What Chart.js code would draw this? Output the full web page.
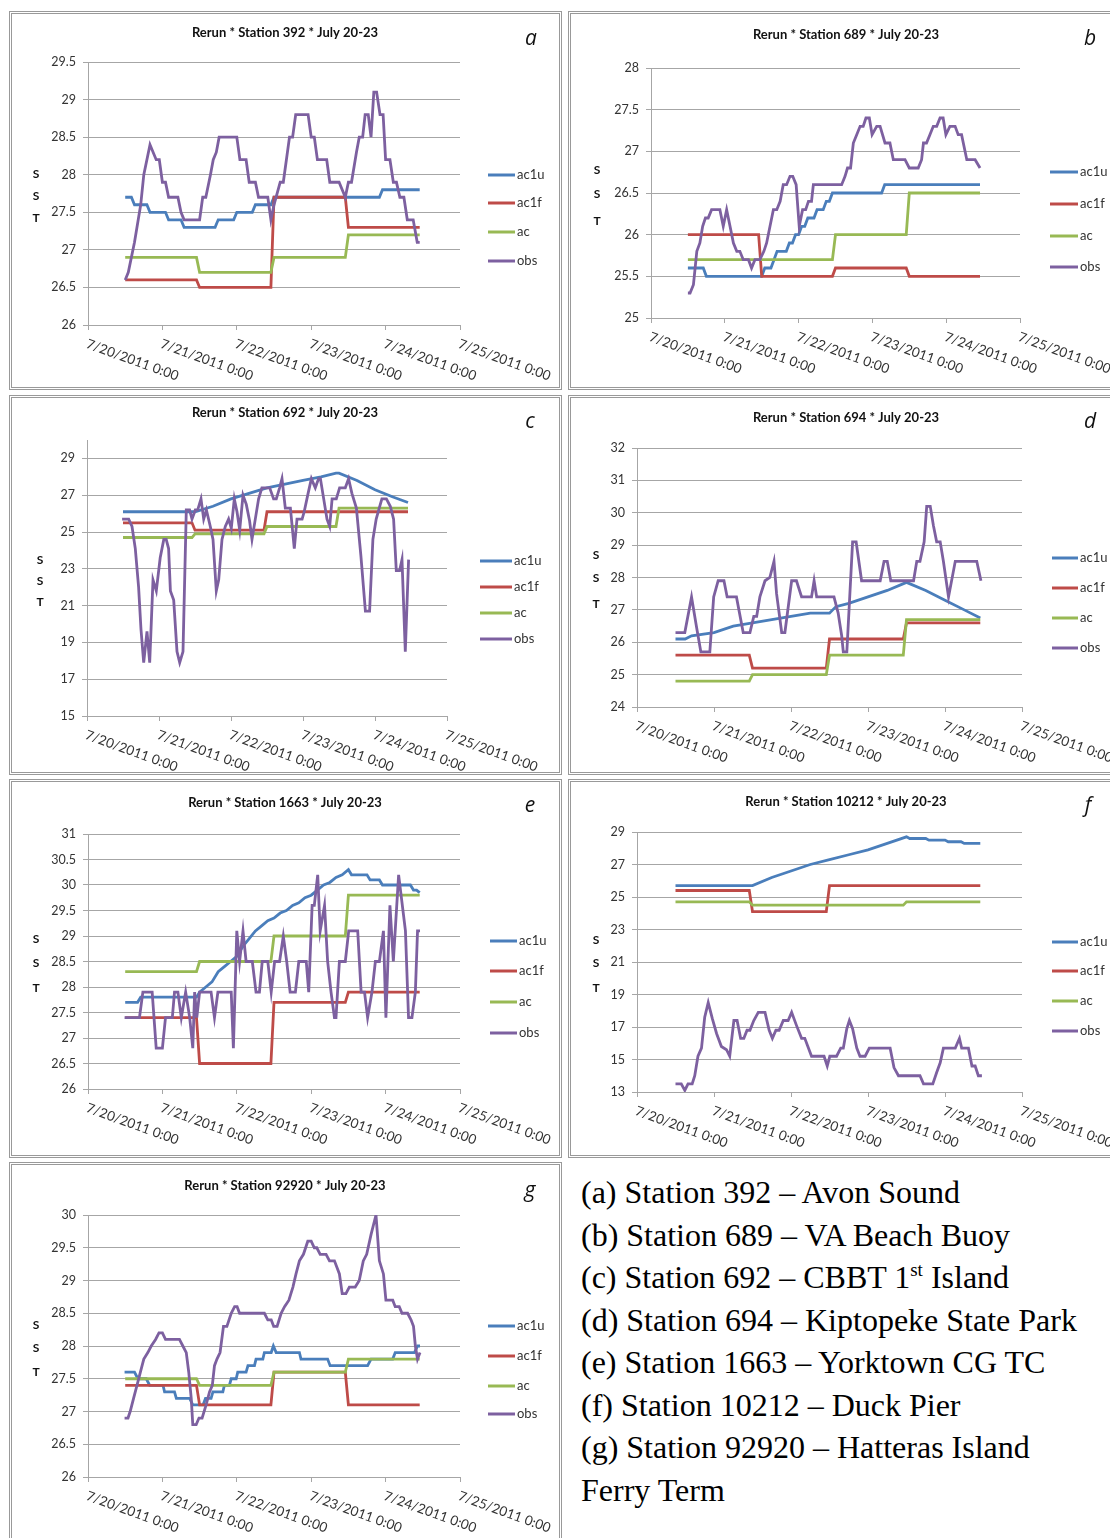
<!DOCTYPE html>
<html>
<head>
<meta charset="utf-8">
<script src="https://cdn.jsdelivr.net/npm/chart.js@4.4.1/dist/chart.umd.min.js"></script>
<style>
  body { margin: 0; width: 1110px; height: 1538px; overflow: hidden; background: #fff; position: relative; }
  canvas { position: absolute; }
  .frame { position: absolute; box-sizing: border-box; border: 3px double #999; pointer-events: none; }
  .caption { position: absolute; left: 581px; top: 1171px; font-family: "Liberation Serif", "Times New Roman", serif;
             font-size: 32px; line-height: 42.5px; color: #000; white-space: nowrap; }
  .caption sup { font-size: 19px; line-height: 0; }
</style>
</head>
<body>
<div class="caption">
  <div>(a) Station 392 – Avon Sound</div>
  <div>(b) Station 689 – VA Beach Buoy</div>
  <div>(c) Station 692 – CBBT 1<sup>st</sup> Island</div>
  <div>(d) Station 694 – Kiptopeke State Park</div>
  <div>(e) Station 1663 – Yorktown CG TC</div>
  <div>(f) Station 10212 – Duck Pier</div>
  <div>(g) Station 92920 – Hatteras Island</div>
  <div>Ferry Term</div>
</div>
<script>
// x values are hours after 7/20/2011 0:00
const xTicks = [0, 24, 48, 72, 96, 120];
const xTickLabels = ['7/20/2011 0:00', '7/21/2011 0:00', '7/22/2011 0:00', '7/23/2011 0:00', '7/24/2011 0:00', '7/25/2011 0:00'];
const seriesNames = ['ac1u', 'ac1f', 'ac', 'obs'];
const seriesColors = ['#4a7ebb', '#be4b48', '#98b954', '#7d60a0'];

// (a) Station 392
const yTicksA = [26, 26.5, 27, 27.5, 28, 28.5, 29, 29.5];
const a_ac1u = [[12,27.7],[14,27.7],[15,27.6],[19,27.6],[20,27.5],[25,27.5],[26,27.4],[30,27.4],[31,27.3],[41,27.3],[42,27.4],[47,27.4],[48,27.5],[53,27.5],[54,27.6],[59,27.6],[60,27.7],[94,27.7],[95,27.8],[107,27.8]];
const a_ac1f = [[12,26.6],[35,26.6],[36,26.5],[59,26.5],[60,27.7],[83,27.7],[84,27.3],[107,27.3]];
const a_ac = [[12,26.9],[35,26.9],[36,26.7],[59,26.7],[60,26.9],[83,26.9],[84,27.2],[107,27.2]];
const a_obs = [[12,26.6],[13,26.7],[15,27.1],[17,27.6],[18,28.0],[20,28.4],[22,28.2],[23,28.2],[24,27.9],[25,27.9],[26,27.7],[29,27.7],[30,27.5],[31,27.4],[36,27.4],[37,27.7],[38,27.7],[39.5,28.0],[40.4,28.2],[41.4,28.3],[42.3,28.5],[48,28.5],[49,28.2],[51,28.2],[52,27.9],[54,27.9],[55,27.7],[58,27.7],[59,27.4],[60,27.6],[62,27.9],[63,27.9],[64,28.2],[65,28.5],[66,28.5],[67,28.8],[71,28.8],[72,28.5],[73,28.5],[74,28.2],[77,28.2],[78,27.9],[81,27.9],[83,27.7],[84,27.9],[85,27.9],[86.6,28.3],[87.5,28.5],[88.6,28.5],[89.4,28.8],[90.4,28.8],[91.3,28.5],[92.2,29.1],[93.1,29.1],[94.2,28.8],[95.2,28.8],[96,28.2],[97.4,28.2],[98.5,27.9],[99.5,27.9],[100.6,27.7],[101.9,27.7],[103,27.4],[104.9,27.4],[106.2,27.1],[107,27.1]];

// (b) Station 689
const yTicksB = [25, 25.5, 26, 26.5, 27, 27.5, 28];
const b_ac1u = [[12,25.6],[17,25.6],[18,25.5],[36,25.5],[37,25.6],[39,25.6],[40,25.7],[41,25.8],[44,25.8],[45,25.9],[46,25.9],[47,26.0],[48,26.0],[49,26.1],[50,26.1],[51,26.2],[53,26.2],[54,26.3],[56,26.3],[57,26.4],[58,26.4],[59,26.5],[75,26.5],[76,26.6],[107,26.6]];
const b_ac1f = [[12,26.0],[35,26.0],[36,25.5],[59,25.5],[60,25.6],[83,25.6],[84,25.5],[107,25.5]];
const b_ac = [[12,25.7],[59,25.7],[60,26.0],[83,26.0],[84,26.5],[107,26.5]];
const b_obs = [[12,25.3],[12.7,25.3],[13.8,25.4],[14.9,25.8],[15.9,25.9],[16.8,26.1],[17.7,26.2],[18.6,26.2],[19.7,26.3],[22.4,26.3],[23.5,26.1],[24.6,26.3],[25.7,26.1],[26.8,25.9],[27.9,25.8],[28.9,25.8],[30,25.7],[31.7,25.7],[32.7,25.6],[33.8,25.7],[35.4,25.7],[36.7,25.8],[37.6,25.9],[38.7,26.1],[39.8,26.3],[40.9,26.3],[42,26.4],[43,26.6],[44.1,26.6],[45.2,26.7],[46.1,26.7],[47.2,26.6],[48.2,26.1],[49.3,26.3],[50.3,26.3],[51.2,26.4],[52.2,26.4],[52.8,26.6],[62,26.6],[63.1,26.7],[63.9,26.8],[64.9,26.8],[65.8,27.1],[66.9,27.2],[68,27.3],[69,27.3],[69.9,27.4],[71,27.4],[71.9,27.2],[73.4,27.3],[74.5,27.3],[76.1,27.1],[77.7,27.1],[78.8,26.9],[82.6,26.9],[84,26.8],[86.9,26.8],[88,26.9],[88.6,27.1],[89.6,27.1],[90.7,27.2],[91.8,27.3],[92.9,27.3],[94,27.4],[95,27.4],[95.9,27.2],[97.2,27.3],[98.9,27.3],[99.9,27.2],[101,27.2],[102.7,26.9],[105.4,26.9],[107,26.8]];

// (c) Station 692
const yTicksC = [15, 17, 19, 21, 23, 25, 27, 29];
const c_ac1u = [[12,26.1],[36,26.1],[42,26.4],[48,26.8],[54,27.1],[60,27.4],[66,27.6],[72,27.8],[78,28.0],[83,28.2],[84,28.2],[90,27.8],[96,27.3],[102,26.9],[107,26.6]];
const c_ac1f = [[12,25.5],[35,25.5],[36,25.1],[59,25.1],[60,26.1],[107,26.1]];
const c_ac = [[12,24.7],[35,24.7],[36,24.9],[59,24.9],[60,25.3],[83,25.3],[84,26.3],[107,26.3]];
const c_obs = [[11.7,25.7],[13.9,25.7],[15,25.3],[16.1,24.1],[17.2,22.0],[18,19.7],[18.9,17.9],[20,19.6],[20.9,17.9],[22,22.4],[23.1,21.8],[24.4,23.6],[25.6,24.6],[26.4,24.6],[27.2,24.1],[27.8,21.8],[28.9,21.3],[30,18.5],[30.9,17.9],[32,18.5],[33.1,26.2],[34.2,26.2],[35,25.7],[36.1,26.2],[36.9,26.2],[38,26.8],[38.9,25.7],[39.8,26.2],[41.1,25.3],[42,24.6],[43.1,21.8],[43.9,22.4],[45,24.6],[46.1,25.3],[47.2,25.7],[48.1,25.2],[49.1,26.8],[50,26.1],[50.9,25.1],[52,27.0],[53.1,26.5],[54.2,25.6],[55,24.6],[56.1,25.7],[57.2,26.8],[58.3,27.4],[60.9,27.4],[62.2,26.8],[63.1,26.8],[64.2,27.4],[65,27.9],[66.1,26.3],[67.8,26.3],[69.1,24.1],[70,25.7],[71.7,25.7],[72.4,26.1],[73.7,27.1],[74.8,27.9],[76.1,27.4],[77.2,27.9],[77.8,27.9],[78.9,26.8],[80,25.7],[80.9,25.3],[81.7,26.8],[83.1,26.8],[84.2,27.4],[86.1,27.4],[87.2,27.9],[88.3,27.1],[89.8,26.3],[91.3,23.7],[92.8,20.7],[94.2,20.7],[95.3,24.6],[96.4,25.7],[97.6,26.4],[98.3,26.8],[99.8,26.8],[101.1,26.4],[102.2,25.7],[103.1,22.9],[104.2,22.9],[105,23.5],[106.1,18.5],[107.2,23.5]];

// (d) Station 694
const yTicksD = [24, 25, 26, 27, 28, 29, 30, 31, 32];
const d_ac1u = [[12,26.1],[15,26.1],[17,26.2],[24,26.3],[30,26.5],[36,26.6],[42,26.7],[48,26.8],[54,26.9],[60,26.9],[62,27.1],[66,27.2],[72,27.4],[78,27.6],[84,27.85],[90,27.6],[96,27.3],[102,27.0],[107,26.75]];
const d_ac1f = [[12,25.6],[35,25.6],[36,25.2],[59,25.2],[60,26.1],[83,26.1],[84,26.6],[107,26.6]];
const d_ac = [[12,24.8],[35,24.8],[36,25.0],[59,25.0],[60,25.6],[83,25.6],[84,26.7],[107,26.7]];
const d_obs = [[12,26.3],[14.9,26.3],[17,27.4],[18.5,26.5],[19.9,25.7],[22.7,25.7],[23.9,27.4],[25.3,27.9],[27.1,27.9],[28.1,27.4],[31,27.4],[33.1,26.3],[35.2,26.3],[36.4,26.8],[37.3,26.8],[38.3,27.4],[39.9,27.9],[41.4,28.0],[42.7,28.5],[43.5,27.5],[45.1,26.3],[46.1,26.3],[48.2,27.9],[49.7,27.9],[51.3,27.4],[54.4,27.4],[55.2,27.9],[56,27.4],[61.4,27.4],[62.7,26.9],[63.8,26.2],[64.3,25.7],[65.4,25.7],[67.2,29.1],[68.3,29.1],[70,27.9],[75.8,27.9],[77,28.5],[78,28.5],[79.1,27.9],[86.2,27.9],[87.2,28.5],[88.2,28.5],[89.5,29.1],[90.3,30.2],[91.4,30.2],[92.4,29.6],[93.4,29.1],[94.5,29.1],[95.5,28.5],[97.1,27.4],[99.2,28.5],[105.9,28.5],[107.2,27.9]];

// (e) Station 1663
const yTicksE = [26, 26.5, 27, 27.5, 28, 28.5, 29, 29.5, 30, 30.5, 31];
const e_ac1u = [[12,27.7],[16,27.7],[17,27.8],[35,27.8],[36,27.9],[38,28.0],[40,28.1],[42,28.3],[44,28.4],[46,28.5],[48,28.6],[50,28.8],[52,28.95],[54,29.1],[56,29.2],[58,29.3],[60,29.35],[62,29.45],[64,29.5],[66,29.6],[68,29.65],[70,29.75],[72,29.8],[74,29.9],[76,30.0],[78,30.05],[80,30.15],[82,30.2],[84,30.3],[85,30.2],[90,30.2],[91,30.1],[94,30.1],[95,30.0],[104,30.0],[105,29.9],[106,29.9],[107,29.85]];
const e_ac1f = [[12,27.4],[35,27.4],[36,26.5],[59,26.5],[60,27.7],[83,27.7],[84,27.9],[107,27.9]];
const e_ac = [[12,28.3],[35,28.3],[36,28.5],[59,28.5],[60,29.0],[83,29.0],[84,29.8],[107,29.8]];
const e_obs = [[11.8,27.4],[16.6,27.4],[17.7,27.9],[20.7,27.9],[22,26.8],[24,26.8],[25,27.4],[27.2,27.4],[27.9,27.9],[29,27.9],[30.1,27.4],[31.5,27.9],[32.8,27.4],[33.8,26.8],[34.4,27.9],[35.1,27.4],[36,27.9],[39.7,27.9],[40.8,27.4],[41.9,27.9],[46.2,27.9],[46.9,26.8],[48,29.1],[48.9,28.5],[50,29.1],[51,28.5],[53,28.5],[54.2,27.9],[55.3,27.9],[56.2,28.5],[58,28.5],[59.1,27.9],[60.2,28.5],[61.8,28.5],[63,29.0],[64.1,28.5],[65.2,27.9],[66.9,27.9],[68,28.5],[70.4,28.5],[71.2,27.9],[72.3,29.6],[73,29.6],[74.1,30.2],[74.9,29.1],[76.3,29.6],[77.3,28.5],[78.4,27.9],[79.5,27.4],[80,27.4],[81.1,28.5],[83,28.5],[84.1,29.1],[87,29.1],[88.1,27.9],[89.2,27.9],[90.2,27.4],[91.6,27.9],[92.7,28.5],[94,28.5],[95.3,29.1],[96.1,27.4],[97.4,29.6],[98.5,28.5],[100.2,30.2],[102.4,29.1],[103.4,27.4],[104.5,27.4],[105.6,27.9],[106.3,29.1],[107.1,29.1]];

// (f) Station 10212
const yTicksF = [13, 15, 17, 19, 21, 23, 25, 27, 29];
const f_ac1u = [[12,25.7],[36,25.7],[42,26.2],[48,26.6],[54,27.0],[60,27.3],[66,27.6],[72,27.9],[78,28.3],[84,28.7],[85,28.6],[90,28.6],[91,28.5],[96,28.5],[97,28.4],[101,28.4],[102,28.3],[107,28.3]];
const f_ac1f = [[12,25.4],[35,25.4],[36,24.1],[59,24.1],[60,25.7],[107,25.7]];
const f_ac = [[12,24.7],[35,24.7],[36,24.5],[83,24.5],[84,24.7],[107,24.7]];
const f_obs = [[12,13.5],[13.8,13.5],[14.9,13.1],[15.9,13.5],[17.2,13.5],[18,14.0],[19,15.2],[20.1,15.7],[21.1,17.6],[22.2,18.5],[23.5,17.5],[24.8,16.6],[26.3,15.8],[27.9,15.6],[28.9,15.2],[30.2,17.4],[31.2,17.4],[32.3,16.3],[33.3,16.3],[34.3,16.8],[35.2,16.8],[36.4,17.4],[37.8,17.9],[39.9,17.9],[41.2,16.8],[42.2,16.3],[43.3,16.8],[44.3,16.8],[45.6,17.4],[47.1,17.4],[48.2,17.9],[49.7,17.1],[51.3,16.3],[52.3,16.3],[54.4,15.2],[58.3,15.2],[59.3,14.6],[60.1,15.2],[62.2,15.2],[63.5,15.7],[64.3,15.7],[65.4,16.9],[66.2,17.4],[67.2,16.9],[68.5,15.7],[69.5,15.2],[71.1,15.2],[72.4,15.7],[78.9,15.7],[80.1,14.5],[81.5,14.0],[88.2,14.0],[89.3,13.5],[92.2,13.5],[93.4,14.2],[94.5,14.8],[95.5,15.7],[99.2,15.7],[100.5,16.3],[101.2,15.7],[103.3,15.7],[104.4,14.6],[105.4,14.6],[106.4,14.0],[107.5,14.0]];

// (g) Station 92920
const yTicksG = [26, 26.5, 27, 27.5, 28, 28.5, 29, 29.5, 30];
const g_ac1u = [[11.8,27.6],[15,27.6],[16.1,27.5],[18.8,27.5],[19.9,27.4],[24.2,27.4],[24.7,27.3],[27.9,27.3],[28.5,27.2],[32.8,27.2],[33.8,27.1],[37.1,27.1],[37.9,27.2],[39.7,27.2],[40.3,27.3],[43.5,27.3],[44,27.4],[45.6,27.4],[46.2,27.5],[47.8,27.5],[48.3,27.6],[51,27.6],[51.6,27.7],[53.7,27.7],[54.2,27.8],[56.4,27.8],[56.9,27.9],[59.1,27.9],[59.8,28.0],[60.7,27.9],[68.2,27.9],[68.7,27.8],[77.3,27.8],[78.1,27.7],[90.2,27.7],[91.3,27.8],[98.3,27.8],[99.1,27.9],[105.3,27.9],[106.3,28.0],[107.1,28.0]];
const g_ac1f = [[12,27.4],[35,27.4],[36,27.1],[59,27.1],[60,27.6],[83,27.6],[84,27.1],[107,27.1]];
const g_ac = [[12,27.5],[35,27.5],[36,27.4],[59,27.4],[60,27.6],[83,27.6],[84,27.8],[107,27.8]];
const g_obs = [[11.8,26.9],[12.9,26.9],[13.6,27.0],[14.7,27.2],[15.8,27.4],[16.9,27.6],[18,27.8],[19.3,27.9],[20.4,28.0],[21.8,28.1],[22.9,28.2],[24,28.2],[25,28.1],[29.5,28.1],[30.6,28.0],[31.7,27.9],[32.5,27.6],[33.3,27.2],[33.8,26.8],[34.9,26.8],[35.8,26.9],[36.8,26.9],[38.1,27.1],[39.2,27.3],[40.1,27.4],[40.8,27.7],[41.6,27.8],[42.6,27.9],[43.7,28.3],[44.8,28.3],[46.2,28.5],[47.3,28.6],[48.1,28.6],[48.9,28.5],[56.9,28.5],[58,28.4],[59.1,28.4],[59.9,28.3],[61,28.3],[62.3,28.5],[63.4,28.6],[64.8,28.7],[66.1,28.9],[67.1,29.1],[68.2,29.3],[69.5,29.4],[70.9,29.6],[72,29.6],[73,29.5],[73.8,29.5],[74.9,29.4],[76.8,29.4],[77.9,29.3],[79.5,29.3],[81.1,29.1],[82,28.8],[83.2,28.8],[84.3,28.9],[86.2,28.9],[87.5,29.0],[88.8,29.3],[89.9,29.4],[91.3,29.7],[92.9,30.0],[94,29.3],[95.3,29.1],[96.1,28.7],[98.3,28.7],[99.1,28.6],[100.4,28.6],[101.3,28.5],[103.1,28.5],[104.2,28.4],[105,28.3],[105.6,28.0],[106.3,27.8],[107.1,27.9]];

// page layout of each panel: box = [left, top, width, height], plot = [x0, y0, x1, y1]
const panels = [
  { id: 'a', title: 'Rerun * Station 392 * July 20-23', yTicks: yTicksA, series: [a_ac1u, a_ac1f, a_ac, a_obs],
    box: [9, 11, 553, 379], plot: [88, 62, 460, 325], titleXY: [285, 33], letter: [531, 39],
    sst: { x: 36, ys: [174, 196, 218] }, legend: { x0: 488, x1: 515, ys: [175, 203, 232, 261] } },
  { id: 'b', title: 'Rerun * Station 689 * July 20-23', yTicks: yTicksB, series: [b_ac1u, b_ac1f, b_ac, b_obs],
    box: [568, 11, 550, 379], plot: [651, 68, 1020, 318], titleXY: [846, 35], letter: [1090, 39],
    sst: { x: 597, ys: [170, 194, 221] }, legend: { x0: 1050, x1: 1078, ys: [172, 204, 236, 267] } },
  { id: 'c', title: 'Rerun * Station 692 * July 20-23', yTicks: yTicksC, series: [c_ac1u, c_ac1f, c_ac, c_obs],
    box: [9, 395, 553, 380], plot: [87, 440, 447, 716], titleXY: [285, 413], letter: [530, 422], yMax: 30,
    sst: { x: 40, ys: [560, 581, 602] }, legend: { x0: 480, x1: 512, ys: [561, 587, 613, 639] } },
  { id: 'd', title: 'Rerun * Station 694 * July 20-23', yTicks: yTicksD, series: [d_ac1u, d_ac1f, d_ac, d_obs],
    box: [568, 395, 550, 380], plot: [637, 448, 1022, 707], titleXY: [846, 418], letter: [1090, 422],
    sst: { x: 596, ys: [555, 578, 604] }, legend: { x0: 1052, x1: 1078, ys: [558, 588, 618, 648] } },
  { id: 'e', title: 'Rerun * Station 1663 * July 20-23', yTicks: yTicksE, series: [e_ac1u, e_ac1f, e_ac, e_obs],
    box: [9, 779, 553, 379], plot: [88, 834, 460, 1089], titleXY: [285, 803], letter: [530, 806],
    sst: { x: 36, ys: [939, 963, 988] }, legend: { x0: 490, x1: 517, ys: [941, 971, 1002, 1033] } },
  { id: 'f', title: 'Rerun * Station 10212 * July 20-23', yTicks: yTicksF, series: [f_ac1u, f_ac1f, f_ac, f_obs],
    box: [568, 779, 550, 379], plot: [637, 832, 1022, 1092], titleXY: [846, 802], letter: [1088, 806],
    sst: { x: 596, ys: [940, 963, 988] }, legend: { x0: 1052, x1: 1078, ys: [942, 971, 1001, 1031] } },
  { id: 'g', title: 'Rerun * Station 92920 * July 20-23', yTicks: yTicksG, series: [g_ac1u, g_ac1f, g_ac, g_obs],
    box: [9, 1162, 553, 390], plot: [88, 1215, 460, 1477], titleXY: [285, 1186], letter: [530, 1191],
    sst: { x: 36, ys: [1325, 1348, 1372] }, legend: { x0: 488, x1: 515, ys: [1326, 1356, 1386, 1414] } },
];

const Y_AXIS_W = 50;
const X_AXIS_H = 5;
const gridColor = '#a6a6a6';

// draws the title, panel letter, "SST", legend and slanted date labels
function decor(p) {
  return {
    id: 'decor_' + p.id,
    afterDraw(chart) {
      const ctx = chart.ctx;
      const L = p.box[0], T = p.box[1];
      ctx.save();
      ctx.fillStyle = '#111';
      ctx.textAlign = 'center';
      ctx.textBaseline = 'middle';
      ctx.font = 'bold 13px Lato';
      ctx.fillText(p.title, p.titleXY[0] - L, p.titleXY[1] - T);
      ctx.font = 'italic 21px "Open Sans"';
      ctx.fillText(p.id, p.letter[0] - L, p.letter[1] - T);
      ctx.font = 'bold 12px Lato';
      ['S', 'S', 'T'].forEach((ch, i) => ctx.fillText(ch, p.sst.x - L, p.sst.ys[i] - T));

      ctx.textAlign = 'left';
      ctx.font = '13px Lato';
      ctx.fillStyle = '#333';
      chart.data.datasets.forEach((ds, i) => {
        const y = p.legend.ys[i] - T;
        ctx.strokeStyle = ds.borderColor;
        ctx.lineWidth = 3;
        ctx.beginPath();
        ctx.moveTo(p.legend.x0 - L, y);
        ctx.lineTo(p.legend.x1 - L, y);
        ctx.stroke();
        ctx.fillText(ds.label, p.legend.x1 - L + 2, y);
      });

      const xs = chart.scales.x;
      ctx.font = '13.5px Lato';
      ctx.textBaseline = 'top';
      xTicks.forEach((v, i) => {
        ctx.save();
        ctx.translate(xs.getPixelForValue(v) + 1, chart.chartArea.bottom + 12);
        ctx.rotate(20 * Math.PI / 180);
        ctx.fillText(xTickLabels[i], 0, 0);
        ctx.restore();
      });
      ctx.restore();
    }
  };
}

panels.forEach(p => {
  const [L, T, W, H] = p.box;
  const [x0, y0, x1, y1] = p.plot;

  const canvas = document.createElement('canvas');
  canvas.width = W;
  canvas.height = H;
  canvas.style.left = L + 'px';
  canvas.style.top = T + 'px';
  document.body.appendChild(canvas);

  const frame = document.createElement('div');
  frame.className = 'frame';
  frame.style.left = L + 'px';
  frame.style.top = T + 'px';
  frame.style.width = W + 'px';
  frame.style.height = H + 'px';
  document.body.appendChild(frame);

  const datasets = p.series.map((data, i) => ({
    label: seriesNames[i],
    data: data,
    borderColor: seriesColors[i],
    backgroundColor: seriesColors[i],
    borderWidth: 2.8,
    pointRadius: 0,
    tension: 0,
    fill: false,
    order: 3 - i,
  }));

  new Chart(canvas, {
    type: 'line',
    data: { datasets: datasets },
    options: {
      responsive: false,
      animation: false,
      events: [],
      layout: {
        padding: {
          left: x0 - L - Y_AXIS_W,
          top: y0 - T,
          right: L + W - x1,
          bottom: T + H - y1 - X_AXIS_H,
        }
      },
      plugins: { legend: { display: false }, title: { display: false }, tooltip: { enabled: false } },
      scales: {
        x: {
          type: 'linear',
          min: 0,
          max: 120,
          afterBuildTicks: s => { s.ticks = xTicks.map(v => ({ value: v })); },
          afterFit: s => { s.height = X_AXIS_H; },
          ticks: { display: false },
          grid: { display: true, drawOnChartArea: false, drawTicks: true, tickLength: 5, color: gridColor },
          border: { display: true, color: gridColor, width: 1 },
        },
        y: {
          min: p.yTicks[0],
          max: p.yMax !== undefined ? p.yMax : p.yTicks[p.yTicks.length - 1],
          afterBuildTicks: s => { s.ticks = p.yTicks.map(v => ({ value: v })); },
          afterFit: s => { s.width = Y_AXIS_W; },
          ticks: {
            callback: v => String(v),
            color: '#333',
            font: { family: 'Lato', size: 12.5 },
            padding: 7,
          },
          grid: { color: gridColor, lineWidth: 1, tickLength: 5 },
          border: { display: true, color: gridColor, width: 1 },
        }
      }
    },
    plugins: [decor(p)]
  });
});
</script>
</body>
</html>
